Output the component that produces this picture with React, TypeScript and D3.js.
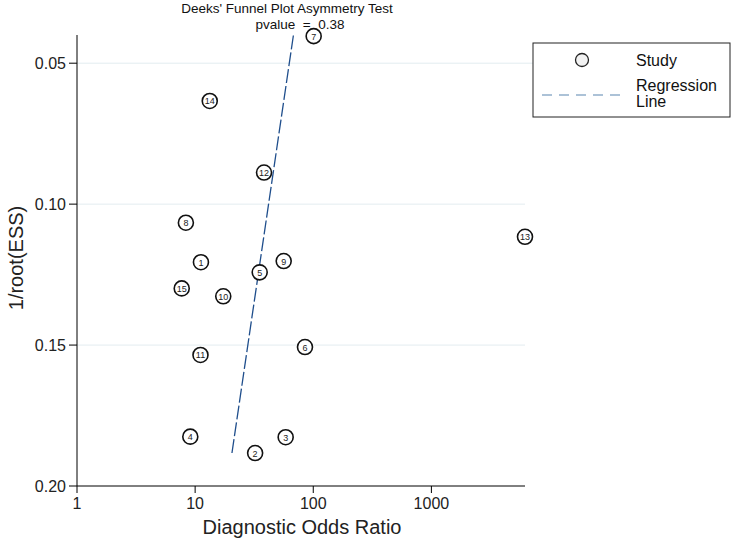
import * as d3 from "d3";

const studyIds = [1, 2, 3, 4, 5, 6, 7, 8, 9, 10, 11, 12, 13, 14, 15];
const dorValues = [11.2, 32.2, 58.4, 9.1, 35.2, 85.1, 100.8, 8.35, 56.2, 17.3, 11.1, 38.3, 6200, 13.3, 7.7];
const essValues = [0.1206, 0.1883, 0.1827, 0.1825, 0.1242, 0.1507, 0.0404, 0.1066, 0.1202, 0.1327, 0.1535, 0.0888, 0.1116, 0.0634, 0.1299];

const regDor = [20.5, 68.3];
const regEss = [0.1883, 0.0394];

const xTicks = [1, 10, 100, 1000];
const yTicks = [0.05, 0.1, 0.15, 0.2];

const font = "'Liberation Sans', Arial, sans-serif";

export default function App() {
  const width = 732;
  const height = 540;
  const left = 77;
  const right = 525;
  const top = 35;
  const bottom = 486;

  const x = d3.scaleLog().domain([1, 6200]).range([left, right]);
  const y = d3.scaleLinear().domain([0.04, 0.2]).range([top, bottom]);

  const line = d3
    .line<number>()
    .x((d, i) => x(regDor[i]))
    .y((d, i) => y(regEss[i]));

  return (
    <svg
      width={width}
      height={height}
      style={{ position: "absolute", left: 0, top: 0, background: "#fff" }}
      fontFamily={font}
    >
      {yTicks.slice(0, 3).map((t) => (
        <line key={t} x1={left} x2={t === 0.05 ? 533 : right} y1={y(t)} y2={y(t)} stroke="#e3ecf0" strokeWidth={1} />
      ))}

      <line x1={left} x2={left} y1={top} y2={bottom} stroke="#000" strokeWidth={1} />
      <line x1={left} x2={right} y1={bottom} y2={bottom} stroke="#000" strokeWidth={1} />

      {yTicks.map((t) => (
        <g key={t}>
          <line x1={left - 8} x2={left} y1={y(t)} y2={y(t)} stroke="#000" />
          <text x={left - 11} y={y(t)} textAnchor="end" dominantBaseline="central" fontSize={16} fill="#222">
            {t.toFixed(2)}
          </text>
        </g>
      ))}

      {xTicks.map((t) => (
        <g key={t}>
          <line x1={x(t)} x2={x(t)} y1={bottom} y2={bottom + 7} stroke="#000" />
          <text x={x(t)} y={bottom + 23} textAnchor="middle" fontSize={16} fill="#222">
            {t}
          </text>
        </g>
      ))}

      <text
        transform={`translate(23, 258) rotate(-90)`}
        textAnchor="middle"
        fontSize={20}
        fill="#222"
      >
        1/root(ESS)
      </text>
      <text x={302} y={534} textAnchor="middle" fontSize={20} fill="#222">
        Diagnostic Odds Ratio
      </text>

      <text x={287} y={13} textAnchor="middle" fontSize={13.5} fill="#111">
        Deeks' Funnel Plot Asymmetry Test
      </text>
      <text x={300} y={29} textAnchor="middle" fontSize={13.5} fill="#111" style={{ whiteSpace: "pre" }}>
        {"pvalue  =  0.38"}
      </text>

      <path d={line(regDor) ?? ""} fill="none" stroke="#1f4e8c" strokeWidth={1.3} strokeDasharray="14 3" />

      {studyIds.map((id, i) => (
        <g key={id} transform={`translate(${x(dorValues[i])},${y(essValues[i])})`}>
          <circle r={7.5} fill="#fff" stroke="#111" strokeWidth={1.6} />
          <text textAnchor="middle" dominantBaseline="central" fontSize={9} fill="#222" y={0.5}>
            {id}
          </text>
        </g>
      ))}

      <rect x={533} y={43} width={197} height={74} fill="#fff" stroke="#222" strokeWidth={1} />
      <circle cx={582} cy={60} r={6.5} fill="#f2f2f2" stroke="#222" strokeWidth={1.3} />
      <text x={636} y={60} dominantBaseline="central" fontSize={16} fill="#111">
        Study
      </text>
      <line x1={542} x2={622} y1={95} y2={95} stroke="#5b86b0" strokeWidth={1.2} strokeDasharray="10 7" />
      <text x={636} y={85} dominantBaseline="central" fontSize={16} fill="#111">
        Regression
      </text>
      <text x={636} y={101} dominantBaseline="central" fontSize={16} fill="#111">
        Line
      </text>
    </svg>
  );
}
